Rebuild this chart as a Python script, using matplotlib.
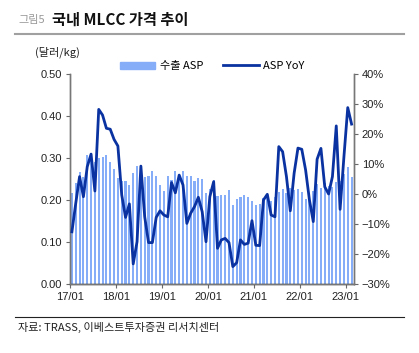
import matplotlib
matplotlib.use("Agg")
import matplotlib.pyplot as plt
import numpy as np
from matplotlib.lines import Line2D
from matplotlib.patches import Patch

plt.rcParams['font.family'] = ['Liberation Sans', 'Noto Sans CJK KR', 'DejaVu Sans']

# monthly, 2017/01 .. 2023/02
asp = [0.217, 0.241, 0.267, 0.255, 0.306, 0.313, 0.290, 0.300, 0.303, 0.306, 0.290, 0.273,
       0.252, 0.245, 0.245, 0.236, 0.264, 0.281, 0.276, 0.254, 0.257, 0.268, 0.257, 0.235,
       0.222, 0.257, 0.248, 0.268, 0.257, 0.268, 0.257, 0.258, 0.245, 0.252, 0.250, 0.216,
       0.227, 0.248, 0.210, 0.211, 0.213, 0.224, 0.189, 0.202, 0.208, 0.211, 0.208, 0.197,
       0.189, 0.190, 0.205, 0.206, 0.197, 0.208, 0.219, 0.227, 0.216, 0.229, 0.224, 0.227,
       0.219, 0.203, 0.211, 0.221, 0.238, 0.229, 0.241, 0.233, 0.232, 0.243, 0.246, 0.262,
       0.279, 0.254]
yoy = [-12.6, -3.1, 5.8, -0.9, 9.1, 13.3, 1.0, 28.2, 26.3, 21.9, 21.6, 18.2,
       16.0, -0.3, -7.8, -3.3, -23.3, -15.9, 9.3, -7.6, -16.2, -16.2, -7.8, -5.6,
       -7.0, -7.6, 3.8, 0.4, 6.3, 3.0, -9.8, -6.4, -4.2, -1.1, -5.9, -15.9,
       -0.9, 4.1, -18.1, -15.3, -14.8, -16.2, -24.2, -22.9, -15.3, -16.8, -16.4, -8.9,
       -17.1, -17.2, -2.0, -0.1, -7.0, -7.6, 15.8, 14.1, 5.8, -5.6, 6.9, 15.3,
       14.9, 8.0, -2.0, -9.2, 11.6, 15.2, 2.4, 0.0, 5.8, 22.7, -5.1, 12.4,
       28.8, 23.3]
xtick_labels = ['17/01', '18/01', '19/01', '20/01', '21/01', '22/01', '23/01']
left_ticks = [0.0, 0.1, 0.2, 0.3, 0.4, 0.5]
right_ticks = [-30, -20, -10, 0, 10, 20, 30, 40]

W, H = 419, 353
fig = plt.figure(figsize=(W/100, H/100), dpi=100)
ax = fig.add_axes([70/W, 1-284/H, (353.5-70)/W, (284-74)/H])
ax2 = ax.twinx()

x = np.arange(len(asp))
bar_color = '#86ADF7'
line_color = '#0A32A0'
ax.bar(x, asp, width=0.55, color=bar_color, zorder=1)
ax2.plot(x, yoy, color=line_color, lw=2.0, zorder=3)

ax.set_xlim(-0.5, len(asp) - 0.5)
ax.set_ylim(0, 0.5)
ax2.set_ylim(-30, 40)
ax.set_zorder(1)
ax2.set_zorder(2)
ax.patch.set_visible(False)

ax.set_xticks([12*i - 0.5 for i in range(len(xtick_labels))])
ax.set_xticklabels(xtick_labels)
ax.set_yticks(left_ticks)
ax.set_yticklabels([f'{v:.2f}' for v in left_ticks])
ax2.set_yticks(right_ticks)
ax2.set_yticklabels([f'{v}%'.replace('-', '\u2212') for v in right_ticks])

for a in (ax, ax2):
    a.spines['top'].set_visible(False)
    a.tick_params(labelsize=8, colors='#6a6a6a', labelcolor='#222222', length=3, width=0.8, pad=3)
    for s in ('left', 'right', 'bottom'):
        a.spines[s].set_color('#777777')
        a.spines[s].set_linewidth(1.0)
ax.spines['bottom'].set_color('#333333')

# texts
fig.text(18/W, 1-20/H, '그림5', fontsize=8, color='#999999', va='center', family=['Noto Sans CJK KR'])
fig.text(52/W, 1-20/H, '국내 MLCC 가격 추이', fontsize=11, color='#111111', va='center',
         fontweight='bold', family=['Noto Sans CJK KR'])
fig.add_artist(Line2D([15/W, 404/W], [1-34/H, 1-34/H], color='#A0A0A0', lw=1.5))
fig.add_artist(Line2D([15/W, 404/W], [1-317/H, 1-317/H], color='#222222', lw=0.8))
fig.text(35/W, 1-52/H, '(달러/kg)', fontsize=8, color='#222222', va='center', family=['Noto Sans CJK KR', 'DejaVu Sans'])
fig.text(18/W, 1-327/H, '자료: TRASS, 이베스트투자증권 리서치센터', fontsize=8, color='#222222', va='center',
         family=['Noto Sans CJK KR', 'DejaVu Sans'])

handles = [Patch(color=bar_color), Line2D([], [], color=line_color, lw=2)]
fig.legend(handles, ['수출 ASP', 'ASP YoY'], loc='center', bbox_to_anchor=(212/W, 1-66/H),
           ncol=2, frameon=False, fontsize=8, handlelength=3.2, handleheight=0.6, columnspacing=1.8,
           handletextpad=0.4, prop={'family': ['Noto Sans CJK KR', 'DejaVu Sans'], 'size': 8})

fig.savefig('out.png', dpi=100)
